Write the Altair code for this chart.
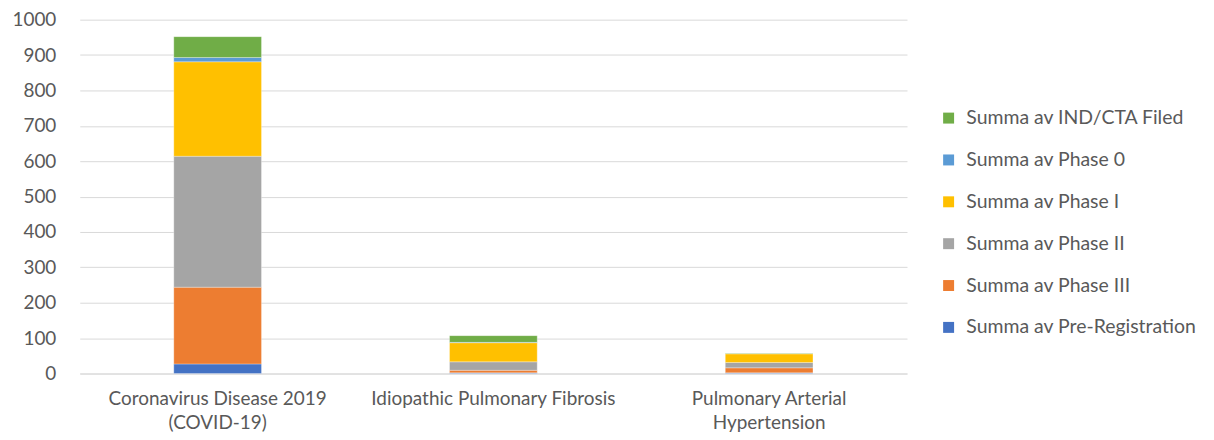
import altair as alt
import pandas as pd

categories = [
    "Coronavirus Disease 2019 (COVID-19)",
    "Idiopathic Pulmonary Fibrosis",
    "Pulmonary Arterial Hypertension",
]
series = [
    "Summa av Pre-Registration",
    "Summa av Phase III",
    "Summa av Phase II",
    "Summa av Phase I",
    "Summa av Phase 0",
    "Summa av IND/CTA Filed",
]
colors = ["#4472C4", "#ED7D31", "#A5A5A5", "#FFC000", "#5B9BD5", "#70AD47"]

pre_registration = [27, 2, 2]
phase_iii = [217, 7, 14]
phase_ii = [370, 24, 15]
phase_i = [267, 54, 25]
phase_0 = [12, 1, 0]
ind_cta_filed = [59, 19, 1]

values = [pre_registration, phase_iii, phase_ii, phase_i, phase_0, ind_cta_filed]

rows = []
for si, (s, vals) in enumerate(zip(series, values)):
    for c, v in zip(categories, vals):
        rows.append({"category": c, "series": s, "value": v, "order": si})
df = pd.DataFrame(rows)

FONT = "Lato"
TXT = "#595959"

label_expr = (
    "datum.label == 'Coronavirus Disease 2019 (COVID-19)' ? ['Coronavirus Disease 2019', '(COVID-19)'] : "
    "datum.label == 'Pulmonary Arterial Hypertension' ? ['Pulmonary Arterial', 'Hypertension'] : datum.label"
)

chart = (
    alt.Chart(df)
    .mark_bar(stroke="white", strokeWidth=0.5, strokeOpacity=0.6)
    .encode(
        x=alt.X(
            "category:N",
            sort=categories,
            title=None,
            scale=alt.Scale(paddingInner=0.682, paddingOuter=0.341),
            axis=alt.Axis(
                labelAngle=0,
                labelExpr=label_expr,
                labelFont=FONT,
                labelFontSize=19,
                labelColor=TXT,
                labelLineHeight=24,
                labelPadding=16,
                labelBaseline="top",
                ticks=False,
                tickSize=0,
                domainColor="#d9d9d9",
                domainWidth=1,
                grid=False,
                labelLimit=400,
            ),
        ),
        y=alt.Y(
            "value:Q",
            title=None,
            stack="zero",
            scale=alt.Scale(domain=[0, 1000], nice=False),
            axis=alt.Axis(
                values=list(range(0, 1001, 100)),
                format="d",
                labelFont=FONT,
                labelFontSize=19,
                labelColor=TXT,
                labelPadding=24,
                ticks=False,
                tickSize=0,
                domain=False,
                gridColor="#d9d9d9",
                gridWidth=1,
            ),
        ),
        color=alt.Color(
            "series:N",
            scale=alt.Scale(domain=series[::-1], range=colors[::-1]),
            legend=alt.Legend(
                title=None,
                orient="none",
                legendX=862,
                legendY=89,
                symbolType="square",
                symbolSize=121,
                symbolStrokeWidth=0,
                labelFont=FONT,
                labelFontSize=19.5,
                labelColor=TXT,
                labelOffset=8,
                rowPadding=21,
                labelLimit=400,
            ),
        ),
        order=alt.Order("order:Q", sort="ascending"),
    )
    .properties(
        width=830,
        height=355,
        autosize=alt.AutoSizeParams(type="none"),
        padding={"left": 72, "top": 11, "right": 300, "bottom": 60},
    )
    .configure_view(stroke=None)
)

chart.save("out.html", embed_options={"renderer": "svg", "actions": False})
